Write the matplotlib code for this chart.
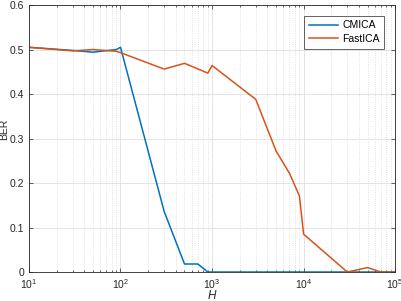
import matplotlib
matplotlib.use("Agg")
import matplotlib.pyplot as plt
from matplotlib.ticker import LogLocator, NullFormatter

plt.rcParams["font.family"] = ["Liberation Sans", "DejaVu Sans"]
plt.rcParams["mathtext.fontset"] = "custom"
plt.rcParams["mathtext.rm"] = "Liberation Sans"
plt.rcParams["mathtext.it"] = "Liberation Sans:italic"

H_cmica = [10, 30, 50, 90, 100, 300, 500, 700, 900, 1000, 1e4, 1e5]
ber_cmica = [0.505, 0.498, 0.494, 0.500, 0.505, 0.136, 0.018, 0.018, 0.0, 0.0, 0.0, 0.0]

H_fast = [10, 30, 50, 90, 100, 300, 500, 900, 1000, 3000, 5000, 7000, 9000, 10000, 30000, 50000, 70000, 100000]
ber_fast = [0.505, 0.497, 0.500, 0.496, 0.493, 0.456, 0.469, 0.447, 0.464, 0.388, 0.272, 0.222, 0.171, 0.085, 0.0, 0.010, 0.0, 0.0]

yticks = [0, 0.1, 0.2, 0.3, 0.4, 0.5, 0.6]

fig = plt.figure(figsize=(4.02, 3.01), dpi=100)
ax = fig.add_axes([0.072, 0.0963, 0.911, 0.887])
ax.plot(H_cmica, ber_cmica, color="#0072BD", lw=1.1, label="CMICA")
ax.plot(H_fast, ber_fast, color="#D95319", lw=1.1, label="FastICA")
ax.set_xscale("log")
ax.set_xlim(10, 1e5)
ax.set_ylim(0, 0.6)
ax.set_yticks(yticks)
ax.set_yticklabels([f"{v:g}" for v in yticks])
ax.xaxis.set_minor_locator(LogLocator(base=10, subs=range(2, 10)))
ax.xaxis.set_minor_formatter(NullFormatter())
ax.grid(True, which="major", color="#DFDFDF", lw=0.6, ls="-")
ax.grid(True, which="minor", axis="x", color="#D8D8D8", lw=0.6, ls=":")
ax.set_axisbelow(True)
for s in ax.spines.values():
    s.set_color("#262626")
    s.set_linewidth(0.6)
ax.tick_params(which="both", direction="in", top=True, right=True, colors="#262626",
               labelsize=7.5, length=3, width=0.5)
ax.tick_params(which="minor", length=1.6)
ax.set_xlabel("$H$", fontsize=8.5, color="#262626")
ax.set_ylabel("BER", fontsize=7.5, color="#262626")
ax.xaxis.set_label_coords(0.5, -0.065)
ax.yaxis.set_label_coords(-0.054, 0.535)
leg = ax.legend(loc="upper right", fontsize=7.5, frameon=True, fancybox=False,
                edgecolor="#262626", framealpha=1, handlelength=2.8, borderpad=0.45,
                labelspacing=0.35, handletextpad=0.4,
                bbox_to_anchor=(0.985, 0.98))
leg.get_frame().set_linewidth(0.5)
fig.savefig("out.png", dpi=100)
